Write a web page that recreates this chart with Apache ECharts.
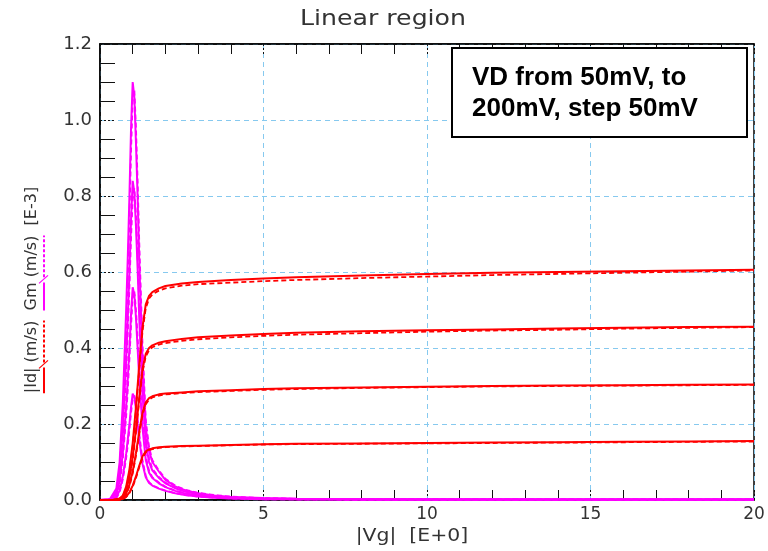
<!DOCTYPE html>
<html>
<head>
<meta charset="utf-8">
<script src="https://cdn.jsdelivr.net/npm/echarts@6/dist/echarts.min.js"></script>
<style>
  html, body { margin: 0; padding: 0; background: #fff; }
  #chart { width: 768px; height: 551px; }
</style>
</head>
<body>
<div id="chart"></div>
<script>
// Gate voltage sweep for the drain current curves |Id| (E-3 A)
const vgId = [0, 0.4, 0.6, 0.7, 0.8, 0.9, 1.0, 1.1, 1.2, 1.3, 1.4, 1.5, 1.6, 1.8, 2.0, 2.5, 3, 4, 5, 6, 8, 10, 12, 14, 16, 18, 20];

// Measured |Id| for VD = 200, 150, 100, 50 mV
const idMeas200 = [0, 0, 0.004, 0.012, 0.035, 0.08, 0.15, 0.245, 0.355, 0.455, 0.515, 0.537, 0.547, 0.557, 0.563, 0.570, 0.574, 0.579, 0.583, 0.586, 0.591, 0.595, 0.598, 0.600, 0.602, 0.604, 0.606];
const idMeas150 = [0, 0, 0.003, 0.009, 0.026, 0.06, 0.113, 0.185, 0.27, 0.345, 0.385, 0.400, 0.407, 0.414, 0.418, 0.424, 0.428, 0.433, 0.437, 0.440, 0.444, 0.447, 0.449, 0.451, 0.453, 0.455, 0.456];
const idMeas100 = [0, 0, 0.002, 0.006, 0.017, 0.04, 0.075, 0.123, 0.18, 0.23, 0.257, 0.268, 0.273, 0.278, 0.280, 0.283, 0.286, 0.289, 0.292, 0.294, 0.296, 0.298, 0.300, 0.301, 0.302, 0.303, 0.304];
const idMeas50  = [0, 0, 0.001, 0.003, 0.009, 0.02, 0.038, 0.062, 0.09, 0.115, 0.128, 0.133, 0.136, 0.139, 0.140, 0.142, 0.143, 0.145, 0.147, 0.148, 0.149, 0.150, 0.151, 0.152, 0.153, 0.154, 0.155];

// Simulated |Id| (dashed)
const idSim200 = [0, 0, 0.003, 0.010, 0.030, 0.072, 0.14, 0.235, 0.345, 0.445, 0.505, 0.530, 0.541, 0.551, 0.557, 0.564, 0.568, 0.572, 0.576, 0.579, 0.584, 0.588, 0.592, 0.595, 0.598, 0.601, 0.604];
const idSim150 = [0, 0, 0.002, 0.008, 0.023, 0.055, 0.106, 0.178, 0.262, 0.337, 0.378, 0.394, 0.402, 0.409, 0.413, 0.419, 0.423, 0.428, 0.432, 0.435, 0.439, 0.443, 0.446, 0.448, 0.451, 0.453, 0.455];
const idSim100 = [0, 0, 0.001, 0.005, 0.015, 0.036, 0.07, 0.117, 0.173, 0.224, 0.252, 0.264, 0.270, 0.275, 0.278, 0.281, 0.284, 0.287, 0.290, 0.292, 0.295, 0.297, 0.299, 0.300, 0.301, 0.302, 0.303];
const idSim50  = [0, 0, 0.001, 0.002, 0.008, 0.018, 0.035, 0.058, 0.086, 0.111, 0.125, 0.131, 0.134, 0.137, 0.139, 0.141, 0.142, 0.144, 0.146, 0.147, 0.148, 0.149, 0.150, 0.151, 0.152, 0.153, 0.154];

// Gate voltage sweep for the transconductance curves Gm (E-3 S)
const vgGm = [0, 0.3, 0.5, 0.6, 0.7, 0.8, 0.85, 0.9, 0.95, 1.0, 1.05, 1.1, 1.15, 1.2, 1.3, 1.4, 1.5, 1.6, 1.8, 2.0, 2.3, 2.6, 3.0, 3.5, 4, 5, 6, 8, 10, 15, 20];

const gmMeas200 = [0, 0.002, 0.03, 0.10, 0.26, 0.50, 0.64, 0.80, 0.98, 1.10, 1.06, 0.94, 0.80, 0.63, 0.37, 0.19, 0.13, 0.10, 0.075, 0.053, 0.036, 0.026, 0.018, 0.012, 0.008, 0.005, 0.003, 0.002, 0.002, 0.001, 0.001];
const gmMeas150 = [0, 0.001, 0.022, 0.075, 0.19, 0.37, 0.48, 0.60, 0.74, 0.84, 0.81, 0.72, 0.61, 0.48, 0.28, 0.15, 0.10, 0.078, 0.058, 0.044, 0.031, 0.022, 0.015, 0.010, 0.007, 0.004, 0.003, 0.002, 0.001, 0.001, 0.001];
const gmMeas100 = [0, 0.001, 0.015, 0.05, 0.125, 0.245, 0.32, 0.40, 0.49, 0.56, 0.54, 0.48, 0.40, 0.32, 0.19, 0.105, 0.072, 0.058, 0.044, 0.034, 0.024, 0.017, 0.012, 0.008, 0.006, 0.003, 0.002, 0.001, 0.001, 0.001, 0.001];
const gmMeas50  = [0, 0.0005, 0.008, 0.025, 0.063, 0.122, 0.16, 0.20, 0.245, 0.28, 0.27, 0.24, 0.20, 0.16, 0.095, 0.06, 0.045, 0.038, 0.030, 0.024, 0.018, 0.013, 0.009, 0.006, 0.004, 0.002, 0.002, 0.001, 0.001, 0.001, 0.001];

const gmSim200 = [0, 0.001, 0.02, 0.08, 0.22, 0.44, 0.58, 0.74, 0.92, 1.05, 1.08, 0.98, 0.84, 0.68, 0.41, 0.21, 0.14, 0.105, 0.078, 0.056, 0.038, 0.027, 0.019, 0.013, 0.009, 0.005, 0.003, 0.002, 0.002, 0.001, 0.001];
const gmSim150 = [0, 0.001, 0.015, 0.06, 0.165, 0.33, 0.44, 0.56, 0.69, 0.79, 0.82, 0.75, 0.64, 0.52, 0.31, 0.165, 0.11, 0.082, 0.061, 0.046, 0.032, 0.023, 0.016, 0.011, 0.007, 0.004, 0.003, 0.002, 0.001, 0.001, 0.001];
const gmSim100 = [0, 0.001, 0.01, 0.04, 0.11, 0.22, 0.29, 0.37, 0.46, 0.53, 0.55, 0.50, 0.43, 0.35, 0.21, 0.115, 0.077, 0.06, 0.046, 0.035, 0.025, 0.018, 0.012, 0.008, 0.006, 0.003, 0.002, 0.001, 0.001, 0.001, 0.001];
const gmSim50  = [0, 0.0005, 0.005, 0.02, 0.055, 0.11, 0.145, 0.185, 0.23, 0.265, 0.275, 0.25, 0.215, 0.175, 0.105, 0.063, 0.047, 0.039, 0.031, 0.025, 0.018, 0.013, 0.009, 0.006, 0.004, 0.002, 0.002, 0.001, 0.001, 0.001, 0.001];

// Text
const chartTitle = 'Linear region';
const xName = '|Vg|  [E+0]';
const yName = '|Id| (m/s)  Gm (m/s)  [E-3]';
const noteText = 'VD from 50mV, to\n200mV, step 50mV';

const RED = '#ff0000';
const MAGENTA = '#ff00ff';
const TEXT = '#333333';

function pairs(xs, ys) { return xs.map((x, i) => [x, ys[i]]); }

function curve(name, xs, ys, color, dashed, width) {
  return {
    name: name,
    type: 'line',
    data: pairs(xs, ys),
    color: color,
    showSymbol: false,
    symbol: 'none',
    smooth: false,
    silent: true,
    animation: false,
    itemStyle: { color: color },
    lineStyle: { color: color, width: width, type: dashed ? [5, 3] : 'solid', opacity: 1 },
    emphasis: { disabled: true },
    z: color === RED ? 4 : 3
  };
}

const series = [
  curve('Gm 200', vgGm, gmMeas200, MAGENTA, false, 2),
  curve('Gm 150', vgGm, gmMeas150, MAGENTA, false, 2),
  curve('Gm 100', vgGm, gmMeas100, MAGENTA, false, 2),
  curve('Gm 50',  vgGm, gmMeas50,  MAGENTA, false, 2),
  curve('Gm 200 sim', vgGm, gmSim200, MAGENTA, true, 1.8),
  curve('Gm 150 sim', vgGm, gmSim150, MAGENTA, true, 1.8),
  curve('Gm 100 sim', vgGm, gmSim100, MAGENTA, true, 1.8),
  curve('Gm 50 sim',  vgGm, gmSim50,  MAGENTA, true, 1.8),
  curve('Id 200 sim', vgId, idSim200, RED, true, 1.8),
  curve('Id 150 sim', vgId, idSim150, RED, true, 1.8),
  curve('Id 100 sim', vgId, idSim100, RED, true, 1.8),
  curve('Id 50 sim',  vgId, idSim50,  RED, true, 1.8),
  curve('Id 200', vgId, idMeas200, RED, false, 2),
  curve('Id 150', vgId, idMeas150, RED, false, 2),
  curve('Id 100', vgId, idMeas100, RED, false, 2),
  curve('Id 50',  vgId, idMeas50,  RED, false, 2)
];

// Positions of the coloured legend underlines beside the rotated y-axis name
const yNameFont = '16px "DejaVu Sans"';
const measureCtx = document.createElement('canvas').getContext('2d');
measureCtx.font = yNameFont;
function w(s) { return measureCtx.measureText(s).width; }
const yNameCx = 32, yNameCy = 290;
const yNameStart = yNameCy + w(yName) / 2; // screen y of the first character
function spanOf(word, fromIdx) {
  const i = yName.indexOf(word, fromIdx);
  return [yNameStart - w(yName.slice(0, i)), yNameStart - w(yName.slice(0, i + word.length)), i + word.length];
}
const sId = spanOf('|Id|', 0);
const sUnit1 = spanOf('(m/s)', sId[2]);
const sGm = spanOf('Gm', sUnit1[2]);
const sUnit2 = spanOf('(m/s)', sGm[2]);
const ulX = 44;

function vline(y1, y2, color, dashed) {
  return {
    type: 'line', silent: true, z: 10,
    shape: { x1: ulX, y1: y1, x2: ulX, y2: y2 },
    style: { stroke: color, lineWidth: 2, lineDash: dashed ? [3, 2] : null }
  };
}
function slash(y, color) {
  return {
    type: 'line', silent: true, z: 10,
    shape: { x1: ulX - 5, y1: y + 6, x2: ulX + 4, y2: y - 2 },
    style: { stroke: color, lineWidth: 1.2 }
  };
}

const chart = echarts.init(document.getElementById('chart'), null, { renderer: 'canvas' });

chart.setOption({
  backgroundColor: '#ffffff',
  animation: false,
  color: [RED, MAGENTA],
  grid: {
    left: 100, top: 44, right: 14, bottom: 51,
    show: true, borderColor: '#000', borderWidth: 1.5, backgroundColor: 'transparent'
  },
  xAxis: [
    {
      type: 'value', min: 0, max: 20, interval: 5,
      axisLine: { show: true, onZero: false, lineStyle: { color: '#000', width: 1.5 } },
      axisTick: { show: true, inside: true, length: 10, lineStyle: { color: '#111', type: [2, 2] } },
      minorTick: { show: true, splitNumber: 5, length: 10, lineStyle: { color: '#111', width: 1 } },
      axisLabel: { color: TEXT, fontSize: 17, fontFamily: 'DejaVu Sans', margin: 6 },
      splitLine: { show: true, lineStyle: { color: '#86c9ef', type: [5, 4], width: 1 } }
    },
    {
      type: 'value', position: 'top', min: 0, max: 20, interval: 5,
      axisLine: { show: true, onZero: false, lineStyle: { color: '#000', width: 1.5 } },
      axisTick: { show: true, inside: true, length: 10, lineStyle: { color: '#111', type: [2, 2] } },
      minorTick: { show: true, splitNumber: 5, length: 10, lineStyle: { color: '#111', width: 1 } },
      axisLabel: { show: false },
      splitLine: { show: false }
    }
  ],
  yAxis: {
    type: 'value', min: 0, max: 1.2, interval: 0.2,
    axisLine: { show: true, onZero: false, lineStyle: { color: '#000', width: 1.5 } },
    axisTick: { show: true, inside: true, length: 15, lineStyle: { color: '#111', type: [2, 2] } },
    minorTick: { show: true, splitNumber: 4, length: 15, lineStyle: { color: '#111', width: 1 } },
    axisLabel: {
      color: TEXT, fontSize: 18, fontFamily: 'DejaVu Sans', margin: 8,
      formatter: v => v.toFixed(1)
    },
    splitLine: { show: true, lineStyle: { color: '#86c9ef', type: [5, 4], width: 1 } }
  },
  series: series,
  graphic: [
    {
      type: 'text', x: 383, y: 20, scaleX: 1.2, silent: true,
      style: { text: chartTitle, fill: TEXT, font: '21px "DejaVu Sans"', align: 'center', verticalAlign: 'middle' }
    },
    {
      type: 'text', x: 412, y: 537, scaleX: 1.2, silent: true,
      style: { text: xName, fill: TEXT, font: '17px "DejaVu Sans"', align: 'center', verticalAlign: 'middle' }
    },
    {
      type: 'text', x: yNameCx, y: yNameCy, rotation: Math.PI / 2, silent: true,
      style: { text: yName, fill: TEXT, font: yNameFont, align: 'center', verticalAlign: 'middle' }
    },
    vline(sId[0], sId[1], RED, false),
    vline(sUnit1[0], sUnit1[1], RED, true),
    slash(sUnit1[0], RED),
    vline(sGm[0], sGm[1], MAGENTA, false),
    vline(sUnit2[0], sUnit2[1], MAGENTA, true),
    slash(sUnit2[0], MAGENTA),
    {
      type: 'rect', silent: true, z: 20,
      shape: { x: 452, y: 48, width: 295, height: 89 },
      style: { fill: '#ffffff', stroke: '#000000', lineWidth: 2 }
    },
    {
      type: 'text', x: 472, y: 62, silent: true, z: 21,
      style: {
        text: noteText, fill: '#000000', font: 'bold 26px "Liberation Sans"',
        lineHeight: 31, align: 'left', verticalAlign: 'top'
      }
    }
  ]
});
</script>
</body>
</html>
